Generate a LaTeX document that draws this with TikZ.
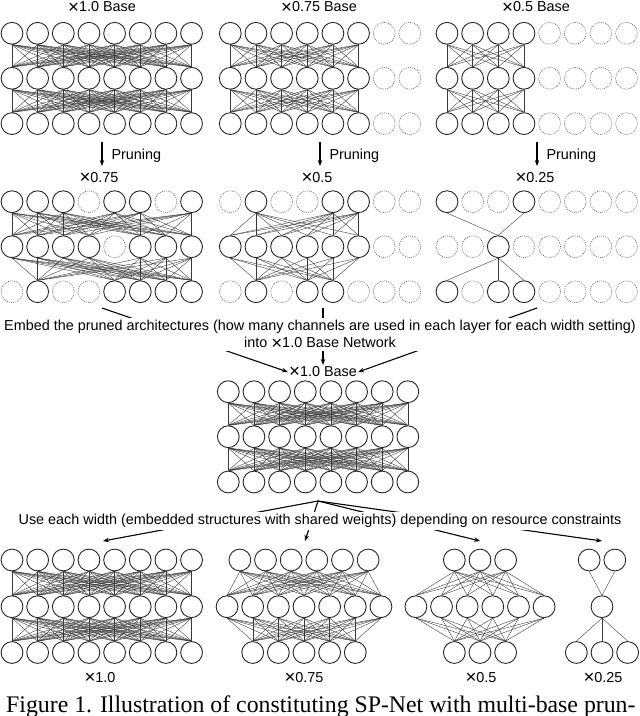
\documentclass[tikz,border=0pt]{standalone}
\usepackage{fontspec}
\setmainfont{Liberation Sans}
\newfontfamily\capfont{Liberation Serif}
\usetikzlibrary{arrows.meta}
\newcommand{\mult}{\raisebox{-0.11em}{\scalebox{1.3}{×}}}

\begin{document}
\begin{tikzpicture}[
	x=1pt, y=-1pt,
	unit/.style={circle, draw=black!85, line width=0.9pt, inner sep=0pt, minimum size=21.8pt},
	pruned/.style={circle, draw=black!60, line width=0.6pt, dash pattern=on 1pt off 1pt, inner sep=0pt, minimum size=21.8pt},
	wire/.style={draw=black!78, line width=0.38pt},
	lbl/.style={font=\fontsize{14.4}{17}\selectfont, inner sep=1pt},
	arr/.style={-{Stealth[length=6pt,width=4.5pt]}, line width=1.1pt}
	]
	\useasboundingbox (0,0) rectangle (640,716);

	% x1.0 Base
	\node[lbl] (tA) at (102,7.5) {\mult1.0 Base};
	\foreach \r/\y in {1/33.3,2/78.3,3/123.6}
		\foreach \c in {1,...,8}
			\node[unit] (A-\r-\c) at ({12+(\c-1)*25.65},\y) {};
	\foreach \a in {1,...,8} \foreach \b in {1,...,8} {
		\draw[wire] (A-1-\a.south) -- (A-2-\b.north);
		\draw[wire] (A-2-\a.south) -- (A-3-\b.north);
	}

	% x0.75 Base
	\node[lbl] (tB) at (319,7.5) {\mult0.75 Base};
	\foreach \r/\y in {1/33.3,2/78.3,3/123.6} {
		\foreach \c in {1,...,6} \node[unit] (B-\r-\c) at ({230.3+(\c-1)*25.65},\y) {};
		\foreach \c in {7,8} \node[pruned] (B-\r-\c) at ({230.3+(\c-1)*25.65},\y) {};
	}
	\foreach \a in {1,...,6} \foreach \b in {1,...,6} {
		\draw[wire] (B-1-\a.south) -- (B-2-\b.north);
		\draw[wire] (B-2-\a.south) -- (B-3-\b.north);
	}

	% x0.5 Base
	\node[lbl] (tC) at (536,7.5) {\mult0.5 Base};
	\foreach \r/\y in {1/33.3,2/78.3,3/123.6} {
		\foreach \c in {1,...,4} \node[unit] (C-\r-\c) at ({447+(\c-1)*25.65},\y) {};
		\foreach \c in {5,...,8} \node[pruned] (C-\r-\c) at ({447+(\c-1)*25.65},\y) {};
	}
	\foreach \a in {1,...,4} \foreach \b in {1,...,4} {
		\draw[wire] (C-1-\a.south) -- (C-2-\b.north);
		\draw[wire] (C-2-\a.south) -- (C-3-\b.north);
	}

	% pruning
	\coordinate (p1) at (102,142); \coordinate (q1) at (102,166);
	\coordinate (p2) at (320,142); \coordinate (q2) at (320,166);
	\coordinate (p3) at (537,142); \coordinate (q3) at (537,166);
	\draw[arr] (p1) -- (q1) node[midway, right=8pt, lbl, yshift=-1.5pt] {Pruning};
	\draw[arr] (p2) -- (q2) node[midway, right=8pt, lbl, yshift=-1.5pt] {Pruning};
	\draw[arr] (p3) -- (q3) node[midway, right=8pt, lbl, yshift=-1.5pt] {Pruning};

	% x0.75
	\node[lbl] (tP) at (99,178) {\mult0.75};
	\foreach \c in {1,2,3,5,6,8} \node[unit] (P-1-\c) at ({12+(\c-1)*25.65},201.7) {};
	\foreach \c in {4,7} \node[pruned] (P-1-\c) at ({12+(\c-1)*25.65},201.7) {};
	\foreach \c in {1,2,3,4,6,7,8} \node[unit] (P-2-\c) at ({12+(\c-1)*25.65},246.7) {};
	\foreach \c in {5} \node[pruned] (P-2-\c) at ({12+(\c-1)*25.65},246.7) {};
	\foreach \c in {2,5,6,7,8} \node[unit] (P-3-\c) at ({12+(\c-1)*25.65},291.7) {};
	\foreach \c in {1,3,4} \node[pruned] (P-3-\c) at ({12+(\c-1)*25.65},291.7) {};
	\foreach \a in {1,2,3,5,6,8} \foreach \b in {1,2,3,4,6,7,8}
		\draw[wire] (P-1-\a.south) -- (P-2-\b.north);
	\foreach \a in {1,2,3,4,6,7,8} \foreach \b in {2,5,6,7,8}
		\draw[wire] (P-2-\a.south) -- (P-3-\b.north);

	% x0.5
	\node[lbl] (tQ) at (317,178) {\mult0.5};
	\foreach \c in {2,5,6} \node[unit] (Q-1-\c) at ({230.3+(\c-1)*25.65},201.7) {};
	\foreach \c in {1,3,4,7,8} \node[pruned] (Q-1-\c) at ({230.3+(\c-1)*25.65},201.7) {};
	\foreach \c in {1,...,6} \node[unit] (Q-2-\c) at ({230.3+(\c-1)*25.65},246.7) {};
	\foreach \c in {7,8} \node[pruned] (Q-2-\c) at ({230.3+(\c-1)*25.65},246.7) {};
	\foreach \c in {2,4,5} \node[unit] (Q-3-\c) at ({230.3+(\c-1)*25.65},291.7) {};
	\foreach \c in {1,3,6,7,8} \node[pruned] (Q-3-\c) at ({230.3+(\c-1)*25.65},291.7) {};
	\foreach \a in {2,5,6} \foreach \b in {1,...,6}
		\draw[wire] (Q-1-\a.south) -- (Q-2-\b.north);
	\foreach \a in {1,...,6} \foreach \b in {2,4,5}
		\draw[wire] (Q-2-\a.south) -- (Q-3-\b.north);

	% x0.25
	\node[lbl] (tR) at (535,178) {\mult0.25};
	\foreach \c in {1,4} \node[unit] (R-1-\c) at ({447+(\c-1)*25.65},201.7) {};
	\foreach \c in {2,3,5,6,7,8} \node[pruned] (R-1-\c) at ({447+(\c-1)*25.65},201.7) {};
	\foreach \c in {3} \node[unit] (R-2-\c) at ({447+(\c-1)*25.65},246.7) {};
	\foreach \c in {1,2,4,5,6,7,8} \node[pruned] (R-2-\c) at ({447+(\c-1)*25.65},246.7) {};
	\foreach \c in {1,3,4} \node[unit] (R-3-\c) at ({447+(\c-1)*25.65},291.7) {};
	\foreach \c in {2,5,6,7,8} \node[pruned] (R-3-\c) at ({447+(\c-1)*25.65},291.7) {};
	\foreach \a in {1,4} \draw[wire] (R-1-\a.south) -- (R-2-3.north);
	\foreach \b in {1,3,4} \draw[wire] (R-2-3.south) -- (R-3-\b.north);

	% embedding into the base network
	\node[lbl] (tN) at (323,372) {\mult1.0 Base};
	\coordinate (s1) at (102,308); \coordinate (s2) at (323,308); \coordinate (s3) at (537,308);
	\draw[arr] (s1) -- (tN.west);
	\draw[arr] (s2) -- (tN.north);
	\draw[arr] (s3) -- (tN.east);
	\node[lbl, fill=white, align=center, inner sep=2pt] (emb) at (320,334.5)
		{Embed the pruned architectures (how many channels are used in each layer for each width setting)\\into \mult1.0 Base Network};

	\foreach \r/\y in {1/391.7,2/436.7,3/482}
		\foreach \c in {1,...,8}
			\node[unit] (N-\r-\c) at ({228.3+(\c-1)*25.65},\y) {};
	\foreach \a in {1,...,8} \foreach \b in {1,...,8} {
		\draw[wire] (N-1-\a.south) -- (N-2-\b.north);
		\draw[wire] (N-2-\a.south) -- (N-3-\b.north);
	}

	% use each width
	\coordinate (u) at (318,501);
	\coordinate (v1) at (103,541); \coordinate (v2) at (305,541);
	\coordinate (v3) at (480,541); \coordinate (v4) at (602,541);
	\foreach \i in {1,...,4} \draw[arr] (u) -- (v\i);
	\node[lbl, fill=white, inner sep=2pt] (use) at (320,521)
		{Use each width (embedded structures with shared weights) depending on resource constraints};

	% x1.0
	\foreach \r/\y in {1/560,2/606.7,3/652.5}
		\foreach \c in {1,...,8}
			\node[unit] (W-\r-\c) at ({12+(\c-1)*25.65},\y) {};
	\foreach \a in {1,...,8} \foreach \b in {1,...,8} {
		\draw[wire] (W-1-\a.south) -- (W-2-\b.north);
		\draw[wire] (W-2-\a.south) -- (W-3-\b.north);
	}
	\node[lbl] (tW) at (100,678) {\mult1.0};

	% x0.75
	\foreach \c in {1,...,6} \node[unit] (X-1-\c) at ({304+(\c-3.5)*25.65},560) {};
	\foreach \c in {1,...,7} \node[unit] (X-2-\c) at ({304+(\c-4)*25.65},606.7) {};
	\foreach \c in {1,...,5} \node[unit] (X-3-\c) at ({304+(\c-3)*25.65},652.5) {};
	\foreach \a in {1,...,6} \foreach \b in {1,...,7}
		\draw[wire] (X-1-\a.south) -- (X-2-\b.north);
	\foreach \a in {1,...,7} \foreach \b in {1,...,5}
		\draw[wire] (X-2-\a.south) -- (X-3-\b.north);
	\node[lbl] (tX) at (304,678) {\mult0.75};

	% x0.5
	\foreach \c in {1,2,3} \node[unit] (Y-1-\c) at ({480+(\c-2)*25.65},560) {};
	\foreach \c in {1,...,6} \node[unit] (Y-2-\c) at ({480+(\c-3.5)*25.65},606.7) {};
	\foreach \c in {1,2,3} \node[unit] (Y-3-\c) at ({480+(\c-2)*25.65},652.5) {};
	\foreach \a in {1,2,3} \foreach \b in {1,...,6} {
		\draw[wire] (Y-1-\a.south) -- (Y-2-\b.north);
		\draw[wire] (Y-2-\b.south) -- (Y-3-\a.north);
	}
	\node[lbl] (tY) at (481,678) {\mult0.5};

	% x0.25
	\foreach \c in {1,2} \node[unit] (Z-1-\c) at ({602+(\c-1.5)*25.65},560) {};
	\node[unit] (Z-2-1) at (602,606.7) {};
	\foreach \c in {1,2,3} \node[unit] (Z-3-\c) at ({602+(\c-2)*25.65},652.5) {};
	\foreach \a in {1,2} \draw[wire] (Z-1-\a.south) -- (Z-2-1.north);
	\foreach \b in {1,2,3} \draw[wire] (Z-2-1.south) -- (Z-3-\b.north);
	\node[lbl] (tZ) at (603,678) {\mult0.25};

	% caption, cut at the bottom edge
	\node[anchor=base west, inner sep=0pt, font=\capfont\fontsize{23.8}{26}\selectfont] (cap) at (6,712)
		{Figure 1. Illustration of constituting SP-Net with multi-base prun-};
\end{tikzpicture}
\end{document}
